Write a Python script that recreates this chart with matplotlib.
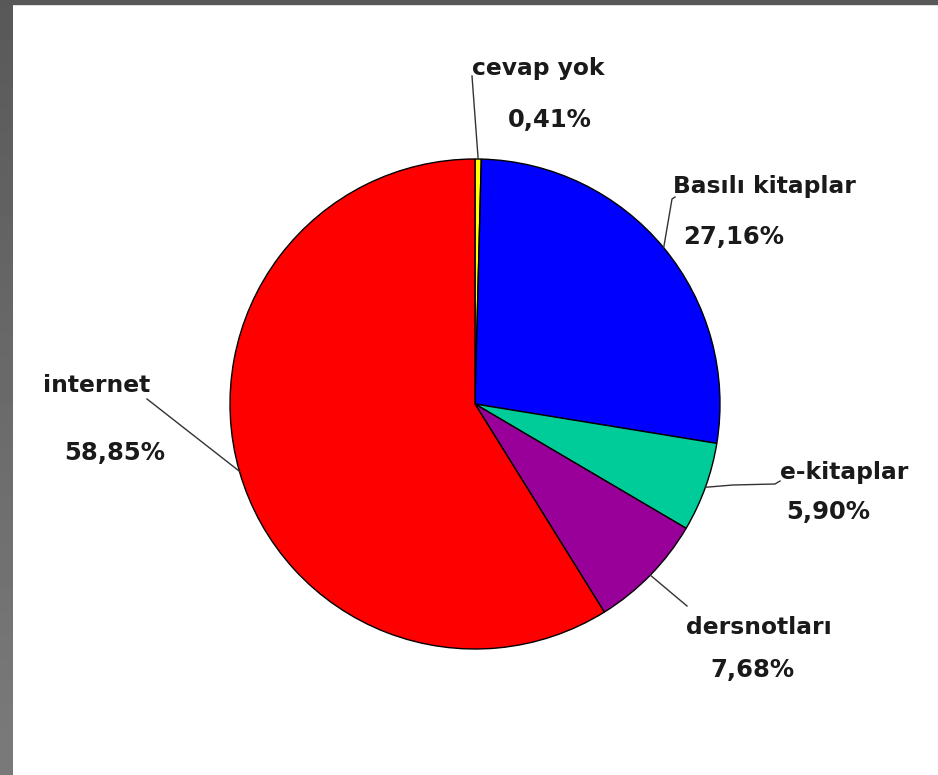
import numpy as np
import matplotlib
matplotlib.use('Agg')
import matplotlib.pyplot as plt
from matplotlib.patches import Rectangle

# data (clockwise from 12 o'clock)
labels = ['cevap yok', 'Basılı kitaplar', 'e-kitaplar', 'dersnotları', 'internet']
values = [0.41, 27.16, 5.90, 7.68, 58.85]
pct_text = ['0,41%', '27,16%', '5,90%', '7,68%', '58,85%']
colors = ['#FFFF00', '#0000FF', '#00CC99', '#990099', '#FF0000']

W, H = 938, 775
CX, CY, R = 475, 404, 245


def py(y):
    # pixel row -> data y (y up)
    return H - y


fig = plt.figure(figsize=(W / 100, H / 100), dpi=100)
ax = fig.add_axes([0, 0, 1, 1])

wedges, _ = ax.pie(values, colors=colors, startangle=90, counterclock=False,
                   center=(CX, py(CY)), radius=R, frame=True,
                   wedgeprops=dict(edgecolor='black', linewidth=1.0))
ax.set_xlim(0, W)
ax.set_ylim(0, H)
ax.set_aspect('equal')
ax.axis('off')

# window frame on left/top (darker at the top, lighter at the bottom)
grad = np.linspace(0.35, 0.48, 100).reshape(-1, 1)
ax.imshow(grad, cmap='gray', vmin=0, vmax=1, extent=(0, 13, 0, H),
          aspect='auto', zorder=0, origin='upper')
ax.add_patch(Rectangle((0, py(4)), W, 4, color='#585858', zorder=1))
ax.set_xlim(0, W)
ax.set_ylim(0, H)

# label layout: (name x, name y, pct x, pct y, elbow points in pixels)
layout = [
    (472, 68, 508, 120, [(472, 76)]),
    (673, 187, 683, 237, [(672, 199), (675, 197)]),
    (780, 472, 786, 512, [(733, 485), (775, 484), (780, 481)]),
    (686, 628, 710, 670, [(687, 606)]),
    (43, 386, 64, 453, [(147, 399)]),
]

for w, name, pct, (nx, ny, px, pyy, pts) in zip(wedges, labels, pct_text, layout):
    mid = np.deg2rad((w.theta1 + w.theta2) / 2)
    x0 = CX + R * np.cos(mid)
    y0 = py(CY) + R * np.sin(mid)
    xs = [x0] + [p[0] for p in pts]
    ys = [y0] + [py(p[1]) for p in pts]
    ax.plot(xs, ys, color='#333333', lw=1.0, zorder=5)
    ax.text(nx, py(ny), name, ha='left', va='center', fontsize=16.8,
            fontweight='bold', color='#1a1a1a')
    ax.text(px, py(pyy), pct, ha='left', va='center', fontsize=17.5,
            fontweight='bold', color='#1a1a1a')

fig.savefig('out.png', dpi=100)
